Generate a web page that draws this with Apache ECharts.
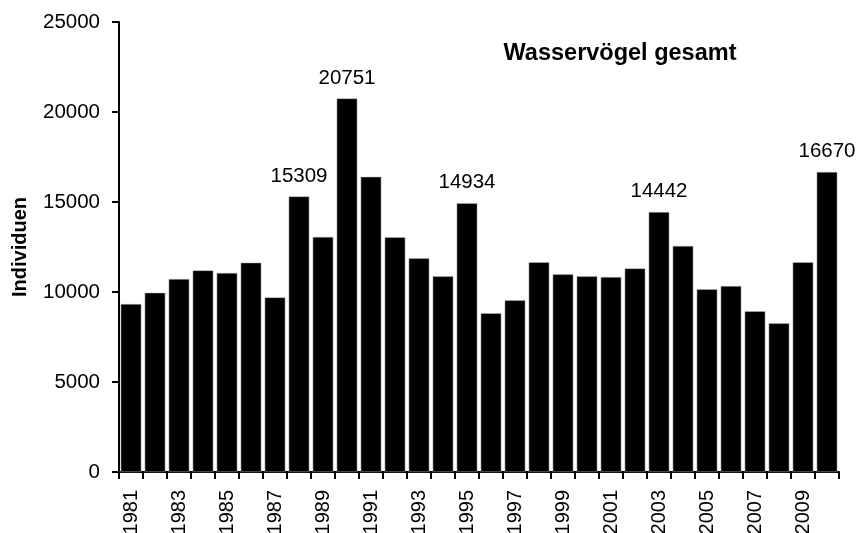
<!DOCTYPE html>
<html><head><meta charset="utf-8">
<script src="https://cdn.jsdelivr.net/npm/echarts@6/dist/echarts.min.js"></script>
<style>html,body{margin:0;padding:0;background:#fff}#c{width:856px;height:533px}</style>
</head><body><div id="c"></div>
<script>
const years = ['1981','1982','1983','1984','1985','1986','1987','1988','1989','1990','1991','1992','1993','1994','1995','1996','1997','1998','1999','2000','2001','2002','2003','2004','2005','2006','2007','2008','2009','2010'];
const values = [9330,9960,10720,11200,11060,11630,9700,15309,13060,20751,16400,13040,11870,10870,14934,8820,9540,11650,10980,10870,10830,11310,14442,12560,10150,10330,8930,8260,11650,16670];
const labelledYears = ['1988','1990','1995','2003','2010'];
const yTicks = {min:0, max:25000, interval:5000};
const title = 'Wasservögel gesamt';
const yName = 'Individuen';

const font = 'Arial, "Liberation Sans", sans-serif';
const chart = echarts.init(document.getElementById('c'));
chart.setOption({
  animation:false,
  title:{text:title, left:615, top:37, textAlign:'center',
    textStyle:{fontFamily:font, fontSize:23.5, fontWeight:'bold', color:'#000'}},
  grid:{left:119, right:17, top:22, bottom:61, containLabel:false, outerBoundsMode:'none'},
  xAxis:{type:'category', data:years,
    axisLine:{lineStyle:{color:'#000', width:2}},
    axisTick:{show:true, interval:0, length:7, lineStyle:{color:'#000', width:2}},
    axisLabel:{interval:1, rotate:90, margin:18, fontFamily:font, fontSize:20, color:'#000'}},
  yAxis:{type:'value', min:yTicks.min, max:yTicks.max, interval:yTicks.interval,
    name:yName, nameLocation:'middle', nameGap:89, nameRotate:90,
    nameTextStyle:{fontFamily:font, fontSize:20, fontWeight:'bold', color:'#000'},
    splitLine:{show:false},
    axisLine:{show:true, lineStyle:{color:'#000', width:2}},
    axisTick:{show:true, length:7, lineStyle:{color:'#000', width:2}},
    axisLabel:{margin:19, fontFamily:font, fontSize:20.5, color:'#000', formatter:v=>String(v)}},
  series:[{type:'bar', barCategoryGap:'14%',
    data:values.map((v,i)=>({value:v,
      label:{show:labelledYears.includes(years[i])}})),
    itemStyle:{color:'#000', borderColor:'#bbb', borderWidth:0.5},
    label:{position:'top', distance:10, fontFamily:font, fontSize:20.5, color:'#000'}}]
});
</script></body></html>
